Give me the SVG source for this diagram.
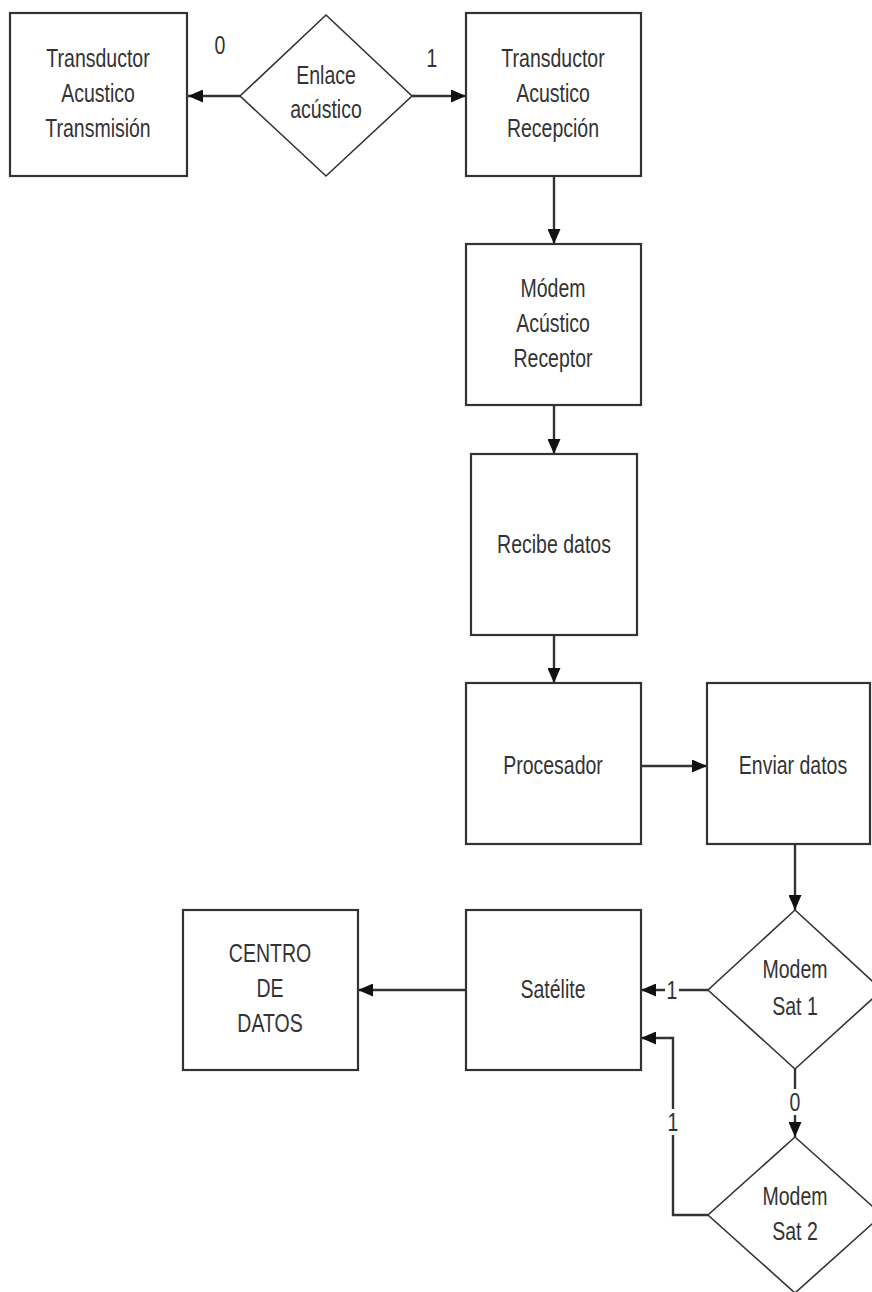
<svg xmlns="http://www.w3.org/2000/svg" width="872" height="1292" viewBox="0 0 872 1292">
<style>
.box{fill:#fff;stroke:#333;stroke-width:2.2}
.dia{fill:#fff;stroke:#333;stroke-width:1.6}
.con{fill:none;stroke:#333;stroke-width:2.4}
text{font-family:"Liberation Sans",Arial,sans-serif;font-size:26px;fill:#333;text-anchor:middle}
.lbl{fill:#fff;stroke:none}
</style>
<defs>
<marker id="ah" viewBox="0 0 15 13" refX="15" refY="6.5" markerWidth="15" markerHeight="13" markerUnits="userSpaceOnUse" orient="auto">
<path d="M0,0 L15,6.5 L0,13 Z" fill="#111"/>
</marker>
</defs>
<rect width="872" height="1292" fill="#fff"/>
<g id="connectors">
<line class="con" x1="240" y1="96" x2="188" y2="96" marker-end="url(#ah)"/>
<line class="con" x1="412" y1="96" x2="466" y2="96" marker-end="url(#ah)"/>
<line class="con" x1="554" y1="176" x2="554" y2="244" marker-end="url(#ah)"/>
<line class="con" x1="554" y1="405" x2="554" y2="454" marker-end="url(#ah)"/>
<line class="con" x1="554" y1="635" x2="554" y2="683" marker-end="url(#ah)"/>
<line class="con" x1="641" y1="766" x2="707" y2="766" marker-end="url(#ah)"/>
<line class="con" x1="795" y1="845" x2="795" y2="910" marker-end="url(#ah)"/>
<line class="con" x1="708" y1="990" x2="641" y2="990" marker-end="url(#ah)"/>
<line class="con" x1="466" y1="990" x2="358" y2="990" marker-end="url(#ah)"/>
<line class="con" x1="795" y1="1069" x2="795" y2="1137" marker-end="url(#ah)"/>
<polyline class="con" points="708,1215 673,1215 673,1038 641,1038" marker-end="url(#ah)"/>
<rect class="lbl" x="665" y="979" width="14" height="22"/>
<rect class="lbl" x="787" y="1089" width="16" height="26"/>
<rect class="lbl" x="666" y="1109" width="14" height="26"/>
<text transform="translate(220,54) scale(0.75,1)">0</text>
<text transform="translate(432,67) scale(0.75,1)">1</text>
<text transform="translate(672,999) scale(0.75,1)">1</text>
<text transform="translate(795,1111) scale(0.75,1)">0</text>
<text transform="translate(673,1131) scale(0.75,1)">1</text>
</g>
<g id="n-transmision">
<rect class="box" x="10" y="13" width="177" height="163"/>
<text transform="translate(98,67) scale(0.75,1)">Transductor</text>
<text transform="translate(98,102) scale(0.75,1)">Acustico</text>
<text transform="translate(98,137) scale(0.75,1)">Transmisión</text>
</g>
<g id="n-enlace">
<polygon class="dia" points="326,15 412,96 326,176 240,96"/>
<text transform="translate(326,84) scale(0.75,1)">Enlace</text>
<text transform="translate(326,118) scale(0.75,1)">acústico</text>
</g>
<g id="n-recepcion">
<rect class="box" x="466" y="13" width="175" height="163"/>
<text transform="translate(553,67) scale(0.75,1)">Transductor</text>
<text transform="translate(553,102) scale(0.75,1)">Acustico</text>
<text transform="translate(553,137) scale(0.75,1)">Recepción</text>
</g>
<g id="n-modem-ac">
<rect class="box" x="466" y="244" width="175" height="161"/>
<text transform="translate(553,297) scale(0.75,1)">Módem</text>
<text transform="translate(553,332) scale(0.75,1)">Acústico</text>
<text transform="translate(553,367) scale(0.75,1)">Receptor</text>
</g>
<g id="n-recibe">
<rect class="box" x="471" y="454" width="166" height="181"/>
<text transform="translate(554,553) scale(0.75,1)">Recibe datos</text>
</g>
<g id="n-procesador">
<rect class="box" x="466" y="683" width="175" height="161"/>
<text transform="translate(553,774) scale(0.75,1)">Procesador</text>
</g>
<g id="n-enviar">
<rect class="box" x="707" y="683" width="163" height="161"/>
<text transform="translate(793,774) scale(0.75,1)">Enviar datos</text>
</g>
<g id="n-sat1">
<polygon class="dia" points="795,910 882,990 795,1069 708,990"/>
<text transform="translate(795,978) scale(0.75,1)">Modem</text>
<text transform="translate(795,1015) scale(0.75,1)">Sat 1</text>
</g>
<g id="n-sat2">
<polygon class="dia" points="795,1137 882,1215 795,1293 708,1215"/>
<text transform="translate(795,1205) scale(0.75,1)">Modem</text>
<text transform="translate(795,1240) scale(0.75,1)">Sat 2</text>
</g>
<g id="n-satelite">
<rect class="box" x="466" y="910" width="175" height="160"/>
<text transform="translate(553,998) scale(0.75,1)">Satélite</text>
</g>
<g id="n-centro">
<rect class="box" x="183" y="910" width="175" height="160"/>
<text transform="translate(270,962) scale(0.75,1)">CENTRO</text>
<text transform="translate(270,997) scale(0.75,1)">DE</text>
<text transform="translate(270,1032) scale(0.75,1)">DATOS</text>
</g>
</svg>
